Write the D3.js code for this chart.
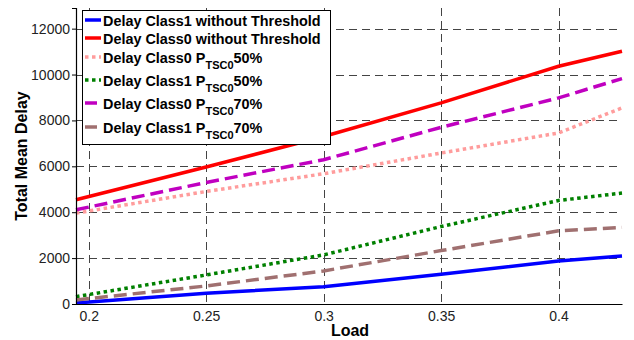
<!DOCTYPE html>
<html>
<head>
<meta charset="utf-8">
<script src="https://cdn.jsdelivr.net/npm/d3@7"></script>
<style>
  body { margin: 0; background: #fff; }
  svg { display: block; font-family: "Liberation Sans", Arial, sans-serif; }
</style>
</head>
<body>
<div id="chart"></div>
<script>
// loads sampled along each curve
const loads = [0.1946, 0.25, 0.3, 0.35, 0.4, 0.427];

const class1NoThr = [40, 467, 756, 1297, 1878, 2096];
const class0NoThr = [4541, 5969, 7300, 8764, 10362, 11017];
const class0P50 = [3960, 4904, 5677, 6580, 7454, 8546];
const class1P50 = [320, 1266, 2140, 3376, 4511, 4834];
const class0P70 = [4105, 5297, 6288, 7700, 8983, 9825];
const class1P70 = [175, 786, 1441, 2328, 3188, 3332];

const xTicks = [0.2, 0.25, 0.3, 0.35, 0.4];
const yTicks = [0, 2000, 4000, 6000, 8000, 10000, 12000];

const series = [
  { name: "Delay Class1 without Threshold", sub: null, values: class1NoThr, color: "#0000ff", dash: null },
  { name: "Delay Class0 without Threshold", sub: null, values: class0NoThr, color: "#ff0000", dash: null },
  { name: "Delay Class0 P", sub: ["TSC0", "50%"], values: class0P50, color: "#ff9c9c", dash: "3.5,3.5" },
  { name: "Delay Class1 P", sub: ["TSC0", "50%"], values: class1P50, color: "#008000", dash: "3.5,3.5" },
  { name: "Delay Class0 P", sub: ["TSC0", "70%"], values: class0P70, color: "#c000c0", dash: "13,6" },
  { name: "Delay Class1 P", sub: ["TSC0", "70%"], values: class1P70, color: "#a07070", dash: "13,6" }
];

const width = 634, height = 340;
const margin = { top: 8, right: 12, bottom: 36, left: 76 };

const svg = d3.select("#chart").append("svg")
  .attr("width", width)
  .attr("height", height);

const x = d3.scaleLinear()
  .domain([0.1946, 0.427])
  .range([margin.left, width - margin.right]);

const y = d3.scaleLinear()
  .domain([0, 12900])
  .range([height - margin.bottom, margin.top]);

// grid
const grid = svg.append("g").attr("stroke", "#444").attr("stroke-width", 1).attr("stroke-dasharray", "8,5");
grid.selectAll("line.v").data(xTicks).join("line")
  .attr("class", "v")
  .attr("x1", d => Math.round(x(d)) + 0.5).attr("x2", d => Math.round(x(d)) + 0.5)
  .attr("y1", y.range()[1]).attr("y2", y.range()[0]);
grid.selectAll("line.h").data(yTicks.slice(1)).join("line")
  .attr("class", "h")
  .attr("x1", x.range()[0]).attr("x2", x.range()[1])
  .attr("y1", d => Math.round(y(d)) + 0.5).attr("y2", d => Math.round(y(d)) + 0.5);

// lines
const line = d3.line()
  .x((d, i) => x(loads[i]))
  .y(d => y(d));

svg.append("g").selectAll("path").data(series).join("path")
  .attr("fill", "none")
  .attr("stroke", d => d.color)
  .attr("stroke-width", 3.5)
  .attr("stroke-dasharray", d => d.dash)
  .attr("d", d => line(d.values));

// axes
const xAxis = svg.append("g")
  .attr("transform", `translate(0,${y.range()[0]})`)
  .call(d3.axisBottom(x).tickValues(xTicks).tickSize(0).tickPadding(7).tickFormat(d3.format("")));
const yAxis = svg.append("g")
  .attr("transform", `translate(${x.range()[0]},0)`)
  .call(d3.axisLeft(y).tickValues(yTicks).tickSize(4).tickPadding(2).tickFormat(d3.format("")));
[xAxis, yAxis].forEach(a => {
  a.select(".domain").attr("stroke", "#000").attr("stroke-width", 1.2);
  a.selectAll("text").attr("font-size", 14).attr("fill", "#222").attr("font-family", "Liberation Sans, Arial, sans-serif");
});

// axis titles
svg.append("text")
  .attr("x", (x.range()[0] + x.range()[1]) / 2 + 1)
  .attr("y", 336)
  .attr("text-anchor", "middle")
  .attr("font-size", 16).attr("font-weight", "bold")
  .text("Load");
svg.append("text")
  .attr("transform", `translate(27,${(y.range()[0] + y.range()[1]) / 2}) rotate(-90)`)
  .attr("text-anchor", "middle")
  .attr("font-size", 16).attr("font-weight", "bold")
  .text("Total Mean Delay");

// legend
const legend = svg.append("g");
legend.append("rect")
  .attr("x", 82.5).attr("y", 10.5)
  .attr("width", 248).attr("height", 134)
  .attr("fill", "#fff").attr("stroke", "#000").attr("stroke-width", 1);

const rowY = [20, 38, 57, 80, 103, 127];
series.forEach((s, i) => {
  const yy = rowY[i];
  legend.append("line")
    .attr("x1", 85).attr("x2", 101)
    .attr("y1", yy).attr("y2", yy)
    .attr("stroke", s.color).attr("stroke-width", 3.5)
    .attr("stroke-dasharray", s.dash ? (s.dash === "13,6" ? "12,4" : s.dash) : null);
  const t = legend.append("text")
    .attr("x", 103).attr("y", yy + 5.5)
    .attr("font-size", 14.4).attr("font-weight", "bold");
  t.append("tspan").text(s.name);
  if (s.sub) {
    t.append("tspan").attr("font-size", 11).attr("dy", 6).text(s.sub[0]);
    t.append("tspan").attr("dy", -6).text(s.sub[1]);
  }
});
</script>
</body>
</html>
